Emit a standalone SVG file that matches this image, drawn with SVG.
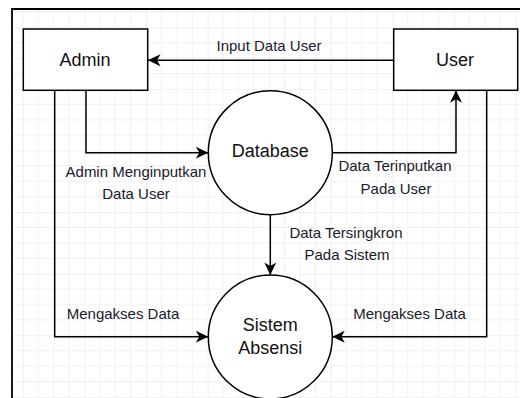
<svg xmlns="http://www.w3.org/2000/svg" width="520" height="398" viewBox="0 0 520 398">
  <defs>
    <pattern id="grid" patternUnits="userSpaceOnUse" x="22.8" y="27.3" width="61.6" height="61.6">
      <path d="M15.4,0V61.6M30.8,0V61.6M46.2,0V61.6M0,15.4H61.6M0,30.8H61.6M0,46.2H61.6" stroke="#f1f1f1" stroke-width="1" fill="none"/>
      <path d="M0,0V61.6M0,0H61.6" stroke="#e2e2e2" stroke-width="1" fill="none"/>
    </pattern>
    <marker id="arrow" markerUnits="userSpaceOnUse" markerWidth="13" markerHeight="12" viewBox="0 0 13 12" refX="12.5" refY="6" orient="auto">
      <path d="M0,0 L12.5,6 L0,12 L3.5,6 Z" fill="#000"/>
    </marker>
    <style>
      .node { fill: #fff; stroke: #000; stroke-width: 1.5; }
      .ntext { font-family: "Liberation Sans", Arial, sans-serif; font-size: 18px; fill: #111; text-anchor: middle; }
      .ltext { font-family: "Liberation Sans", Arial, sans-serif; font-size: 15px; fill: #1a1a2a; text-anchor: middle; }
      .edge { fill: none; stroke: #000; stroke-width: 1.5; marker-end: url(#arrow); }
    </style>
  </defs>
  <rect x="0" y="0" width="520" height="398" fill="#fff"/>
  <rect x="12" y="9" width="508" height="389" fill="url(#grid)"/>
  <path d="M12,398 V9 H520" fill="none" stroke="#000" stroke-width="1.8"/>

  <g id="connectors">
    <path class="edge" d="M394,60.3 H148"/>
    <path class="edge" d="M86,90.3 V152.7 H208.3"/>
    <path class="edge" d="M332.3,152.7 H456 V90.3"/>
    <path class="edge" d="M54.7,90.3 V336.7 H208.3"/>
    <path class="edge" d="M486.7,90.3 V336.7 H332.3"/>
    <path class="edge" d="M270.3,214.3 V275"/>
  </g>

  <g id="labels">
    <text class="ltext" x="269" y="51">Input Data User</text>
    <text class="ltext" x="136" y="176.5">Admin Menginputkan</text>
    <text class="ltext" x="136" y="198.5">Data User</text>
    <text class="ltext" x="395" y="171">Data Terinputkan</text>
    <text class="ltext" x="396" y="193.5">Pada User</text>
    <text class="ltext" x="346" y="238">Data Tersingkron</text>
    <text class="ltext" x="347" y="260">Pada Sistem</text>
    <text class="ltext" x="123" y="319">Mengakses Data</text>
    <text class="ltext" x="409.5" y="319">Mengakses Data</text>
  </g>

  <g id="admin">
    <rect class="node" x="23.3" y="29" width="124.4" height="61.3"/>
    <text class="ntext" x="85" y="66">Admin</text>
  </g>
  <g id="user">
    <rect class="node" x="393.7" y="29" width="124" height="61.3"/>
    <text class="ntext" x="455" y="66">User</text>
  </g>
  <g id="database">
    <circle class="node" cx="270.3" cy="152.7" r="62"/>
    <text class="ntext" x="270.3" y="157">Database</text>
  </g>
  <g id="sistem-absensi">
    <circle class="node" cx="270.3" cy="337" r="62"/>
    <text class="ntext" x="270.3" y="331">Sistem</text>
    <text class="ntext" x="270.3" y="354">Absensi</text>
  </g>
</svg>
